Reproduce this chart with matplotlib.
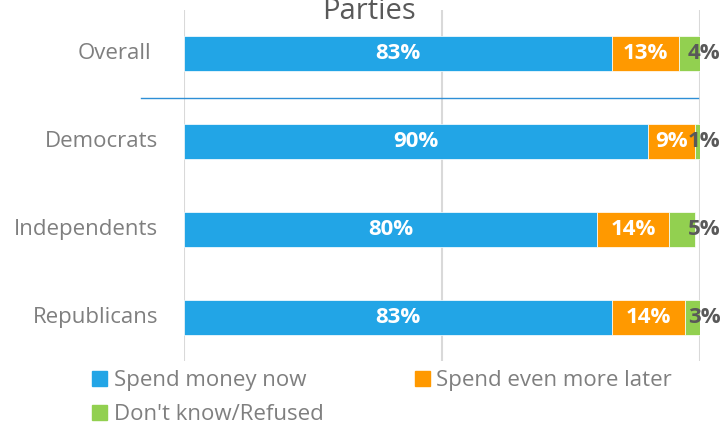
import numpy as np
import matplotlib.pyplot as plt
from matplotlib.patches import Patch
from matplotlib.lines import Line2D

plt.rcParams['font.family'] = ['Open Sans', 'DejaVu Sans']

# data
groups = ['Overall', 'Democrats', 'Independents', 'Republicans']
spend_now = [83, 90, 80, 83]
spend_later = [13, 9, 14, 14]
dont_know = [4, 1, 5, 3]
series_names = ['Spend money now', 'Spend even more later', "Don't know/Refused"]
colors = ['#22A5E6', '#FF9900', '#92D050']
title = 'Parties'

W, H = 724, 425
fig = plt.figure(figsize=(W / 100, H / 100), dpi=100)
ax = fig.add_axes([184 / W, 1 - 361 / H, 516 / W, 351 / H])

y = np.arange(len(groups))
series = [spend_now, spend_later, dont_know]
left = np.zeros(len(groups))
for vals, c in zip(series, colors):
    ax.barh(y, vals, left=left, height=0.4, color=c, edgecolor='white', linewidth=0.5, zorder=3)
    left += np.array(vals)

# data labels
for i in range(len(groups)):
    a, b, d = spend_now[i], spend_later[i], dont_know[i]
    ax.text(a / 2, i, f'{a}%', ha='center', va='center', color='white',
            fontsize=16, fontweight='bold', zorder=4)
    ax.text(a + b / 2, i, f'{b}%', ha='center', va='center', color='white',
            fontsize=16, fontweight='bold', zorder=4)
    ax.text(100.8, i, f'{d}%', ha='center', va='center', color='#595959',
            fontsize=16, fontweight='bold', zorder=4, clip_on=False)

ax.set_xlim(0, 100)
ax.set_ylim(len(groups) - 0.5, -0.5)
ax.set_xticks([0, 50, 100])
ax.xaxis.grid(True, color='#D9D9D9', linewidth=1.5, zorder=0)
ax.tick_params(axis='x', length=0, labelbottom=False)
ax.set_yticks([])
for s in ax.spines.values():
    s.set_visible(False)

# category labels
for i, g in enumerate(groups):
    dx = -33 if g == 'Overall' else -26
    ax.annotate(g, xy=(0, i), xytext=(dx * 0.72, 0), textcoords='offset points',
                ha='right', va='center', fontsize=16, color='#7F7F7F')

# separator line under Overall
ax.add_line(Line2D([-8.3, 99.6], [0.5, 0.5], color='#2E8FD6', linewidth=1, clip_on=False, zorder=2))

fig.text(369 / W, 1 - 19 / H, title, ha='center', va='baseline', fontsize=21, color='#595959')

handles = [Patch(color=colors[0]), Patch(color=colors[2]), Patch(color=colors[1])]
labels = [series_names[0], series_names[2], series_names[1]]
fig.legend(handles, labels, ncol=2, loc='upper left', bbox_to_anchor=(92 / W, 1 - 370 / H),
           frameon=False, fontsize=16, labelcolor='#7F7F7F', handlelength=0.68, handleheight=0.68,
           handletextpad=0.3, columnspacing=4.1, labelspacing=0.6, borderpad=0, borderaxespad=0)

fig.savefig('out.png', dpi=100)
